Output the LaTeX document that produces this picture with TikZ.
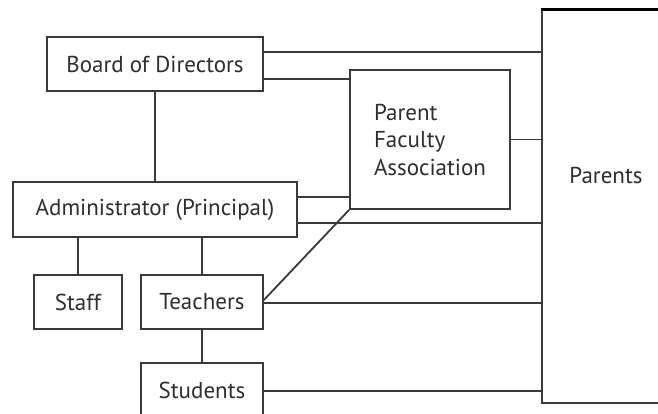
\documentclass[tikz,border=0pt]{standalone}
\usepackage{fontspec}
\setmainfont{PT Sans}
\definecolor{ln}{HTML}{3A3A3A}
\definecolor{tx}{HTML}{2E2E2E}
\begin{document}
\begin{tikzpicture}[x=1pt,y=-1pt,
  box/.style={draw=ln, line width=1.8pt, rectangle, inner sep=0pt, text=tx,
    font=\fontsize{23}{27.5}\selectfont},
  conn/.style={draw=ln, line width=1.8pt},
  lbl/.style={text=tx, inner sep=0pt, font=\fontsize{23}{27.5}\selectfont}]
\useasboundingbox (0,0) rectangle (658,414);
\clip (0,0) rectangle (658,414);
\fill[white] (0,0) rectangle (658,414);
% nodes
\node[box, minimum width=216pt, minimum height=54pt] (bod) at (155,64) {Board of Directors};
\node[box, minimum width=284pt, minimum height=55pt] (admin) at (155,209.5) {Administrator (Principal)};
\node[box, minimum width=88pt, minimum height=54pt] (staff) at (78,302) {Staff};
\node[box, minimum width=122pt, minimum height=54pt] (teach) at (202,302) {Teachers};
\node[box, minimum width=122pt, minimum height=54pt] (stud) at (202,390) {Students};
\node[box, minimum width=160pt, minimum height=139pt, align=left] (pfa) at (430,139.5) {Parent\\Faculty\\Association};
\node[box, minimum width=200pt, minimum height=393pt] (parents) at (642,206.5) {};
\node[lbl] (parentsl) at (606,175) {Parents};
\draw[draw=black, line width=3pt] (parents.north west) -- (parents.north east);
% connector anchors
\coordinate (b1) at ([yshift=12pt]bod.east);
\coordinate (b2) at ([yshift=-15pt]bod.east);
\coordinate (a1) at ([yshift=12.5pt]admin.east);
\coordinate (a2) at ([yshift=-13.5pt]admin.east);
\coordinate (t1) at ([yshift=2pt]teach.east);
\coordinate (t2) at ([yshift=-1pt]teach.east);
\coordinate (s1) at ([yshift=-1pt]stud.east);
% connectors
\draw[conn] (bod.south) -- (admin.north);
\draw[conn] (b1) -- (b1 -| parents.west);
\draw[conn] (b2) -- (b2 -| pfa.west);
\draw[conn] (a1) -- (a1 -| pfa.west);
\draw[conn] (a2) -- (a2 -| parents.west);
\draw[conn] (pfa.east) -- (pfa.east -| parents.west);
\draw[conn] (staff.north) -- (staff.north |- admin.south);
\draw[conn] (teach.north) -- (teach.north |- admin.south);
\draw[conn] (teach.south) -- (stud.north);
\draw[conn] (t1) -- (pfa.south west);
\draw[conn] (t2) -- (t2 -| parents.west);
\draw[conn] (s1) -- (s1 -| parents.west);
\end{tikzpicture}
\end{document}
